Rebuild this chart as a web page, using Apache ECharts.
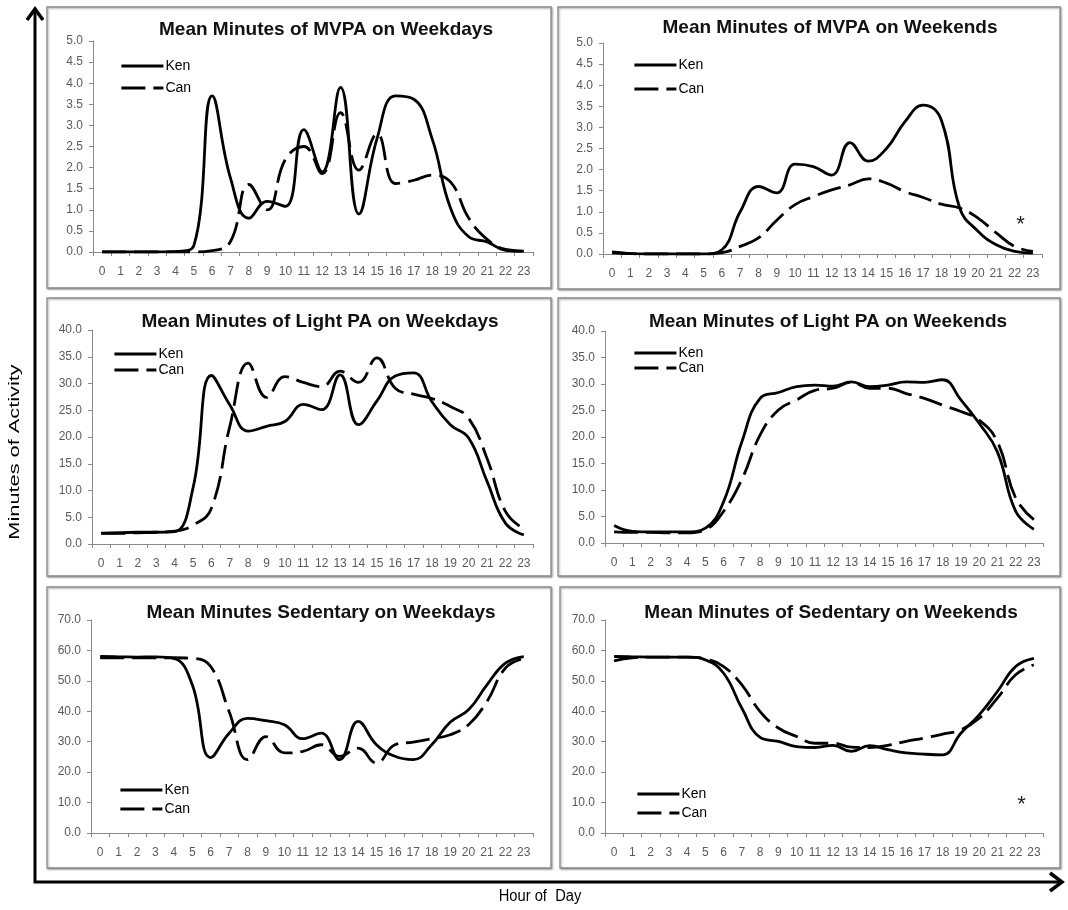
<!DOCTYPE html>
<html><head><meta charset="utf-8">
<script src="https://cdn.jsdelivr.net/npm/echarts@6/dist/echarts.min.js"></script>
<style>html,body{margin:0;padding:0;background:#fff}#c{width:1068px;height:910px}</style>
</head><body><div id="c"></div>
<script>
const hours = ['0','1','2','3','4','5','6','7','8','9','10','11','12','13','14','15','16','17','18','19','20','21','22','23'];
const seriesNames = ['Ken', 'Can'];
const panelTitles = [
  'Mean Minutes of MVPA on Weekdays',
  'Mean Minutes of MVPA on Weekends',
  'Mean Minutes of Light PA on Weekdays',
  'Mean Minutes of Light PA on Weekends',
  'Mean Minutes Sedentary on Weekdays',
  'Mean Minutes of Sedentary on Weekends'
];
const yMax = [5, 5, 40, 40, 70, 70];
const yStep = [0.5, 0.5, 5, 5, 10, 10];
const yAxisTitle = 'Minutes of Activity';
const xAxisTitle = 'Hour of  Day';

const mvpaWkdKen = [0,0,0,0,0.01,0.15,3.7,1.75,0.8,1.2,1.08,2.9,1.9,3.9,0.9,2.7,3.7,3.62,2.68,1.04,0.36,0.24,0.04,0.02];
const mvpaWkdCan = [0,0,0,0,0,0,0.03,0.25,1.6,1.0,2.2,2.5,1.86,3.3,1.94,2.8,1.62,1.7,1.82,1.66,0.8,0.3,0.06,0.02];
const mvpaWkeKen = [0.05,0.01,0,0,0,0,0.1,1.0,1.6,1.45,2.13,2.07,1.87,2.64,2.2,2.5,3.13,3.53,3.17,1.09,0.54,0.22,0.06,0.02];
const mvpaWkeCan = [0.03,0.01,0,0,0,0,0.03,0.18,0.38,0.8,1.17,1.36,1.52,1.64,1.78,1.68,1.48,1.34,1.18,1.09,0.85,0.5,0.18,0.06];
const lightWkdKen = [2.05,2.1,2.2,2.2,2.3,10.5,31.5,26.0,21.1,22.0,22.9,26.1,25.1,31.6,22.3,26.7,31.4,32.0,26.6,22.3,19.8,11.7,3.9,1.7];
const lightWkdCan = [2.0,2.0,2.1,2.2,2.4,3.5,6.7,22.0,33.8,27.4,31.3,30.2,29.4,32.3,30.2,34.8,29.1,28.0,27.2,25.7,23.5,16.0,6.1,2.8];
const lightWkeKen = [3.3,2.2,2.1,2.1,2.1,2.8,7.8,19.1,27.3,28.4,29.5,29.8,29.6,30.4,29.5,29.8,30.4,30.3,30.8,27.0,22.6,17.2,6.0,2.6];
const lightWkeCan = [2.1,2.0,2.0,1.9,1.9,2.5,6.0,12.0,20.4,25.1,27.0,28.8,29.2,30.3,29.2,29.2,28.2,27.3,26.0,24.8,23.2,19.1,8.5,4.4];
const sedWkdKen = [58.0,57.9,57.8,57.9,57.4,48.7,24.8,32.8,37.7,36.9,35.6,31.0,32.8,24.1,36.7,29.0,25.2,24.1,29.0,36.4,40.5,48.7,55.8,58.0];
const sedWkdCan = [57.6,57.6,57.6,57.6,57.6,57.4,54.7,39.9,24.1,31.7,26.3,26.8,29.0,25.2,27.9,23.0,29.0,29.9,31.0,32.3,35.6,43.2,54.2,57.4];
const sedWkeKen = [58.0,57.9,57.8,57.8,57.8,56.9,52.5,41.0,31.4,30.1,28.4,28.1,28.8,26.8,28.7,27.4,26.3,25.9,25.7,32.8,38.8,46.5,54.7,57.4];
const sedWkeCan = [56.6,57.6,57.8,57.8,57.8,57.2,54.7,48.7,39.9,34.5,31.7,29.5,29.5,28.2,28.1,28.8,30.1,31.2,32.5,33.9,37.7,44.3,52.0,55.3];

// significance markers: [panel index, hour, value]
const asterisks = [[1, 22, 0.75], [5, 22, 10.2]];

const kenData = [mvpaWkdKen, mvpaWkeKen, lightWkdKen, lightWkeKen, sedWkdKen, sedWkeKen];
const canData = [mvpaWkdCan, mvpaWkeCan, lightWkdCan, lightWkeCan, sedWkdCan, sedWkeCan];

// layout
const grids = [
  {left: 93, top: 41, width: 440, height: 211},
  {left: 603, top: 43, width: 439, height: 211},
  {left: 92, top: 330, width: 441, height: 214},
  {left: 605, top: 331, width: 438, height: 212},
  {left: 91, top: 620, width: 442, height: 213},
  {left: 605, top: 620, width: 438, height: 213}
];
const boxes = [
  {x: 47, y: 7, width: 504, height: 281},
  {x: 558, y: 7, width: 502, height: 282},
  {x: 47, y: 298, width: 504, height: 278},
  {x: 558, y: 298, width: 502, height: 278},
  {x: 47, y: 587, width: 504, height: 281},
  {x: 560, y: 587, width: 500, height: 281}
];
const titlePos = [[326, 20], [830, 18], [320, 312], [828, 312], [321, 603], [831, 603]];
const legendPos = [[120, 59, 8], [633, 58, 10], [113, 347, 2], [633, 346, 1], [119, 783, 5], [636, 787, 5]];

const FONT = 'Liberation Sans, Arial, Helvetica, sans-serif';
const axisColor = '#8a8a8a';
const LW = 2.8;

const option = {
  animation: false,
  backgroundColor: '#fff',
  title: [], legend: [], grid: [], xAxis: [], yAxis: [], series: [],
  graphic: []
};

boxes.forEach(b => {
  option.graphic.push({
    type: 'rect', z: -10, silent: true,
    shape: {x: b.x, y: b.y, width: b.width, height: b.height},
    style: {fill: '#fff', stroke: '#8c8c8c', lineWidth: 1.3,
      shadowBlur: 2, shadowOffsetX: 1, shadowOffsetY: 1, shadowColor: 'rgba(0,0,0,0.35)'}
  });
});

for (let i = 0; i < 6; i++) {
  const g = grids[i];
  option.grid.push(Object.assign({containLabel: false, outerBoundsMode: 'none'}, g));
  option.title.push({
    text: panelTitles[i], left: titlePos[i][0], top: titlePos[i][1], textAlign: 'center', padding: 0,
    textStyle: {fontFamily: FONT, fontSize: 19, fontWeight: 'bold', color: '#111'}
  });
  option.legend.push({
    orient: 'vertical', left: legendPos[i][0], top: legendPos[i][1], itemGap: legendPos[i][2],
    itemWidth: 42, itemHeight: 14, padding: 0, data: seriesNames,
    selectedMode: false,
    itemStyle: {opacity: 0, color: 'transparent', borderWidth: 0},
    lineStyle: {width: LW, color: '#000'},
    textStyle: {fontFamily: FONT, fontSize: 14, color: '#000', padding: [0, 0, 0, -3]}
  });
  option.xAxis.push({
    type: 'category', gridIndex: i, data: hours, boundaryGap: true,
    axisLine: {lineStyle: {color: axisColor, width: 1}},
    axisTick: {show: true, length: 4, inside: false, lineStyle: {color: axisColor}},
    axisLabel: {interval: 0, margin: 14, fontFamily: FONT, fontSize: 12, color: '#5a5a5a'},
    splitLine: {show: false}
  });
  option.yAxis.push({
    type: 'value', gridIndex: i, min: 0, max: yMax[i], interval: yStep[i],
    axisLine: {show: true, lineStyle: {color: axisColor, width: 1}},
    axisTick: {show: true, length: 4, inside: false, lineStyle: {color: axisColor}},
    axisLabel: {margin: 10, fontFamily: FONT, fontSize: 12, color: '#5a5a5a',
      formatter: v => v.toFixed(1)},
    splitLine: {show: false}
  });
  const marks = asterisks.filter(a => a[0] === i).map(a => ({coord: [a[1], a[2]]}));
  option.series.push({
    name: 'Ken', type: 'line', xAxisIndex: i, yAxisIndex: i, data: kenData[i],
    smooth: 0.45, symbol: 'none', showSymbol: false,
    lineStyle: {color: '#000', width: LW, type: 'solid'}, itemStyle: {color: '#000'},
    markPoint: marks.length ? {
      symbol: 'circle', symbolSize: 1, itemStyle: {color: 'transparent'},
      label: {show: true, formatter: '*', position: 'inside', offset: [6, 3],
        fontFamily: FONT, fontSize: 22, color: '#222'},
      data: marks
    } : undefined
  });
  option.series.push({
    name: 'Can', type: 'line', xAxisIndex: i, yAxisIndex: i, data: canData[i],
    smooth: 0.45, symbol: 'none', showSymbol: false,
    lineStyle: {color: '#000', width: LW, type: [24, 8]}, itemStyle: {color: '#000'}
  });
}

// big frame arrows and outer axis titles
option.graphic.push(
  {type: 'polyline', silent: true, shape: {points: [[35, 10], [35, 882], [1059, 882]]},
    style: {stroke: '#000', lineWidth: 3, fill: null}},
  {type: 'polyline', silent: true, shape: {points: [[27, 20], [35, 9], [43, 20]]},
    style: {stroke: '#000', lineWidth: 3.5, fill: null}},
  {type: 'polyline', silent: true, shape: {points: [[1050, 873], [1062, 882], [1050, 891]]},
    style: {stroke: '#000', lineWidth: 3.5, fill: null}},
  {type: 'text', silent: true, x: 15, y: 452, rotation: Math.PI / 2, scaleX: 1.45,
    style: {text: yAxisTitle, fontFamily: FONT, fontSize: 15, fill: '#000', align: 'center', verticalAlign: 'middle'}},
  {type: 'text', silent: true, x: 540, y: 897, scaleX: 0.92,
    style: {text: xAxisTitle, fontFamily: FONT, fontSize: 16, fill: '#000', align: 'center', verticalAlign: 'middle'}}
);

const chart = echarts.init(document.getElementById('c'), null, {renderer: 'canvas'});
chart.setOption(option);
</script></body></html>
